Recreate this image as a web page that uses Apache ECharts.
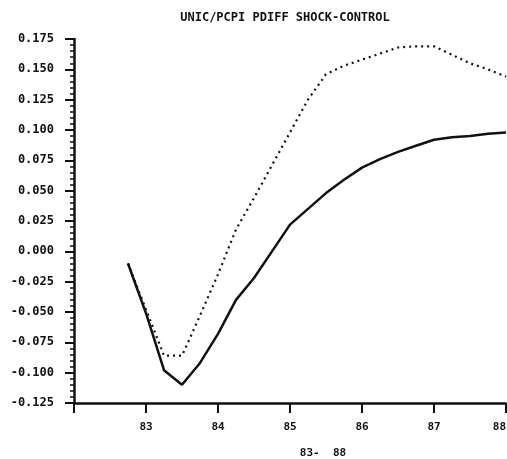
<!DOCTYPE html>
<html>
<head>
<meta charset="utf-8">
<script src="https://cdn.jsdelivr.net/npm/echarts@6/dist/echarts.min.js"></script>
<style>html,body{margin:0;padding:0;background:#fff}#c{width:507px;height:459px}</style>
</head>
<body>
<div id="c"></div>
<script>
const titleText = "UNIC/PCPI PDIFF SHOCK-CONTROL";
const axisName = "83-  88";
const quarters = [82.75, 83.0, 83.25, 83.5, 83.75, 84.0, 84.25, 84.5, 84.75, 85.0, 85.25, 85.5, 85.75, 86.0, 86.25, 86.5, 86.75, 87.0, 87.25, 87.5, 87.75, 88.0];
const solidValues = [-0.010, -0.051, -0.098, -0.110, -0.092, -0.068, -0.040, -0.022, 0.000, 0.022, 0.035, 0.048, 0.059, 0.069, 0.076, 0.082, 0.087, 0.092, 0.094, 0.095, 0.097, 0.098];
const dottedValues = [-0.010, -0.048, -0.086, -0.086, -0.053, -0.019, 0.018, 0.044, 0.071, 0.098, 0.125, 0.146, 0.153, 0.158, 0.163, 0.168, 0.169, 0.169, 0.162, 0.155, 0.150, 0.144];
const yLabels = {"0.175":"0.175","0.15":"0.150","0.125":"0.125","0.1":"0.100","0.075":"0.075","0.05":"0.050","0.025":"0.025","0":"0.000","-0.025":"-0.025","-0.05":"-0.050","-0.075":"-0.075","-0.1":"-0.100","-0.125":"-0.125"};

const chart = echarts.init(document.getElementById('c'));
const font = 'DejaVu Sans Mono';
chart.setOption({
  animation: false,
  backgroundColor: '#fff',
  title: {
    text: titleText, left: 280, top: 7, textAlign: 'center',
    textStyle: {fontFamily: font, fontWeight: 'bold', fontSize: 12, color: '#111'}
  },
  grid: {left: 74, right: 1, top: 39, bottom: 56, containLabel: false, outerBoundsMode: 'none'},
  xAxis: {
    type: 'value', min: 82, max: 88, interval: 1,
    name: axisName, nameLocation: 'middle', nameGap: 45,
    nameTextStyle: {fontFamily: font, fontWeight: 'bold', fontSize: 11, color: '#111', padding: [0,0,0,66]},
    axisLine: {onZero: false, lineStyle: {color: '#111', width: 2.5}},
    axisTick: {length: 10, lineStyle: {color: '#111', width: 2}},
    axisLabel: {margin: 19, fontFamily: font, fontWeight: 'bold', fontSize: 11, color: '#111',
      alignMaxLabel: 'right',
      formatter: v => v === 82 ? '' : String(v).slice(-2)},
    splitLine: {show: false}
  },
  yAxis: {
    type: 'value', min: -0.125, max: 0.175, interval: 0.025,
    axisLine: {show: true, onZero: false, lineStyle: {color: '#111', width: 2.5}},
    axisTick: {show: true, length: 9, lineStyle: {color: '#111', width: 2}},
    minorTick: {show: true, splitNumber: 5, length: 4, lineStyle: {color: '#111', width: 1.5}},
    axisLabel: {margin: 20, fontFamily: font, fontWeight: 'bold', fontSize: 12, color: '#111',
      formatter: v => yLabels[String(Math.round(v*1000)/1000)] || ''},
    splitLine: {show: false}
  },
  series: [
    {type: 'line', data: quarters.map((q,i)=>[q, dottedValues[i]]), showSymbol: false,
     lineStyle: {color: '#111', width: 2.2, type: [2,4], cap: 'butt'}},
    {type: 'line', data: quarters.map((q,i)=>[q, solidValues[i]]), showSymbol: false,
     lineStyle: {color: '#111', width: 2.5}}
  ]
});
</script>
</body>
</html>
